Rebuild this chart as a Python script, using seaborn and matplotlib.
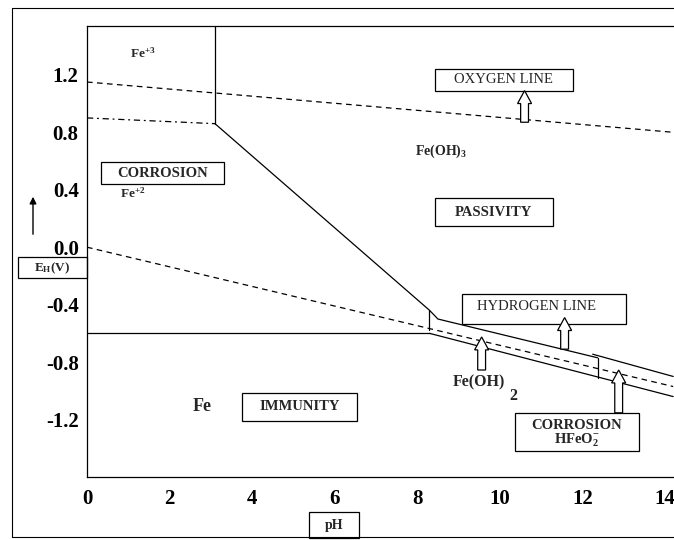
import matplotlib
matplotlib.use("Agg")
import matplotlib.pyplot as plt
import seaborn as sns
import pandas as pd
from matplotlib.patches import Rectangle, FancyArrow, FancyArrowPatch
from matplotlib.lines import Line2D

sns.set_theme(style="white")
plt.rcParams['font.family'] = ['Liberation Serif', 'DejaVu Serif']
plt.rcParams['mathtext.fontset'] = 'custom'
plt.rcParams['mathtext.rm'] = 'Liberation Serif'
plt.rcParams['mathtext.bf'] = 'Liberation Serif:bold'
plt.rcParams['mathtext.default'] = 'bf'
plt.rcParams['axes.unicode_minus'] = False

# ---------------- data ----------------
ph_ticks = [0, 2, 4, 6, 8, 10, 12, 14]
ph_tick_labels = ["0", "2", "4", "6", "8", "10", "12", "14"]
eh_ticks = [-1.2, -0.8, -0.4, 0.0, 0.4, 0.8, 1.2]
eh_tick_labels = ["-1.2", "-0.8", "-0.4", "0.0", "0.4", "0.8", "1.2"]

oxygen_ph = [0.0, 14.2]
oxygen_eh = [1.15, 0.80]
hydrogen_ph = [0.0, 14.2]
hydrogen_eh = [0.0, -0.97]
fe3_fe2_ph = [0.0, 3.1]
fe3_fe2_eh = [0.90, 0.86]
fe3_feoh3_ph = [3.1, 3.1]
fe3_feoh3_eh = [0.86, 1.54]
fe2_feoh3_ph = [3.1, 8.3, 8.5, 12.37]
fe2_feoh3_eh = [0.86, -0.44, -0.50, -0.77]
hfeo2_feoh3_ph = [12.25, 14.2]
hfeo2_feoh3_eh = [-0.745, -0.90]
fe_fe2_ph = [0.0, 8.3]
fe_fe2_eh = [-0.60, -0.60]
fe_feoh2_ph = [8.3, 14.2]
fe_feoh2_eh = [-0.60, -1.04]
fe2_feoh2_ph = [8.28, 8.28]
fe2_feoh2_eh = [-0.44, -0.58]
feoh2_hfeo2_ph = [12.37, 12.37]
feoh2_hfeo2_eh = [-0.77, -0.91]

# ---------------- figure ----------------
fig = plt.figure(figsize=(6.74, 5.4), dpi=100)
W, H = 674.0, 540.0
ax = fig.add_axes([87 / W, 1 - 477 / H, (674 - 87) / W, (477 - 26) / H])
ax.set_xlim(0, 14.22)
ax.set_ylim(-1.6, 1.54)

lw = 0.9
def draw(xs, ys, ls='-'):
    df = pd.DataFrame({'pH': xs, 'E': ys})
    sns.lineplot(data=df, x='pH', y='E', ax=ax, color='black', lw=lw,
                 linestyle=ls, estimator=None, sort=False)

dash = (0, (4.5, 3.5))
draw(oxygen_ph, oxygen_eh, dash)
draw(hydrogen_ph, hydrogen_eh, dash)
draw(fe3_fe2_ph, fe3_fe2_eh, (0, (5, 3, 1.5, 3)))
draw(fe3_feoh3_ph, fe3_feoh3_eh)
draw(fe2_feoh3_ph, fe2_feoh3_eh)
draw(hfeo2_feoh3_ph, hfeo2_feoh3_eh)
draw(fe_fe2_ph, fe_fe2_eh)
draw(fe_feoh2_ph, fe_feoh2_eh)
draw(fe2_feoh2_ph, fe2_feoh2_eh)
draw(feoh2_hfeo2_ph, feoh2_hfeo2_eh)

ax.set_xticks(ph_ticks)
ax.set_xticklabels(ph_tick_labels)
ax.set_yticks(eh_ticks)
ax.set_yticklabels(eh_tick_labels)
ax.tick_params(axis='both', length=0, labelsize=15, colors='black')
ax.tick_params(axis='x', pad=9)
ax.tick_params(axis='y', pad=6)
for t in ax.get_xticklabels() + ax.get_yticklabels():
    t.set_fontweight('bold')
ax.set_xlabel('')
ax.set_ylabel('')
for s in ['left', 'bottom', 'top']:
    ax.spines[s].set_color('black')
    ax.spines[s].set_linewidth(lw)
ax.spines['right'].set_visible(False)

# label boxes (pH, E, width, height)
def box(x0, y0, w, h):
    ax.add_patch(Rectangle((x0, y0), w, h, fill=True, fc='white', ec='black',
                           lw=lw, zorder=4))

box(0.34, 0.44, 2.98, 0.15)
ax.text(1.83, 0.515, "CORROSION", ha='center', va='center', fontsize=10.5,
        fontweight='bold', zorder=6)
box(8.43, 1.09, 3.34, 0.153)
ax.text(10.1, 1.167, "OXYGEN LINE", ha='center', va='center', fontsize=10.5,
        zorder=6)
box(8.43, 0.146, 2.85, 0.194)
ax.text(9.85, 0.243, "PASSIVITY", ha='center', va='center', fontsize=10.5,
        fontweight='bold', zorder=6)
box(9.08, -0.535, 3.97, 0.21)
ax.text(10.9, -0.41, "HYDROGEN LINE", ha='center', va='center', fontsize=10.5,
        zorder=6)
box(10.36, -1.417, 3.01, 0.264)
ax.text(11.86, -1.243, "CORROSION", ha='center', va='center', fontsize=10.5,
        fontweight='bold', zorder=6)
ax.text(11.86, -1.345, r"HFeO$^{-}_{2}$", ha='center', va='center', fontsize=10.5,
        fontweight='bold', zorder=6)
box(3.75, -1.208, 2.79, 0.194)
ax.text(5.15, -1.11, "IMMUNITY", ha='center', va='center', fontsize=10.5,
        fontweight='bold', zorder=6)

ax.text(1.04, 1.35, r"Fe$^{+3}$", ha='left', va='center', fontsize=9.5,
        fontweight='bold')
ax.text(0.80, 0.375, r"Fe$^{+2}$", ha='left', va='center', fontsize=9.5,
        fontweight='bold')
ax.text(7.94, 0.67, r"Fe(OH)$_{3}$", ha='left', va='center', fontsize=10,
        fontweight='bold')
ax.text(8.86, -0.94, "Fe(OH)", ha='left', va='center', fontsize=11.5,
        fontweight='bold')
ax.text(10.24, -1.035, "2", ha='left', va='center', fontsize=11.5,
        fontweight='bold')
ax.text(2.8, -1.11, "Fe", ha='center', va='center', fontsize=13,
        fontweight='bold')

# hollow arrows (x, tail, tip)
arrows = [(10.6, 0.87, 1.09), (11.57, -0.71, -0.49),
          (9.56, -0.855, -0.625), (12.88, -1.153, -0.855)]
for x, y0, y1 in arrows:
    ax.add_patch(FancyArrow(x, y0, 0, y1 - y0, width=0.19, head_width=0.34,
                            head_length=0.09, length_includes_head=True,
                            fc='white', ec='black', lw=lw, zorder=7))

# figure-level annotations
def fbox(x0, y0, x1, y1):
    fig.add_artist(Rectangle((x0 / W, 1 - y1 / H), (x1 - x0) / W, (y1 - y0) / H,
                             transform=fig.transFigure, fill=False,
                             ec='black', lw=lw))

fbox(18, 257, 87, 278)
fig.text(52 / W, 1 - 268 / H, r"E$_{H}$(V)", ha='center', va='center',
         fontsize=9.5, fontweight='bold')
fbox(309, 512, 359, 538)
fig.text(334 / W, 1 - 525 / H, "pH", ha='center', va='center', fontsize=10,
         fontweight='bold')
fig.add_artist(FancyArrowPatch((33 / W, 1 - 237 / H), (33 / W, 1 - 194 / H),
                               transform=fig.transFigure, arrowstyle='-|>',
                               mutation_scale=10, color='black', lw=1))

# outer frame
for (x0, y0, x1, y1) in [(12, 8, 674, 8), (12, 8, 12, 537), (12, 537, 674, 537)]:
    fig.add_artist(Line2D([x0 / W, x1 / W], [1 - y0 / H, 1 - y1 / H],
                          transform=fig.transFigure, color='black', lw=0.8))

fig.savefig("out.png", dpi=100)
